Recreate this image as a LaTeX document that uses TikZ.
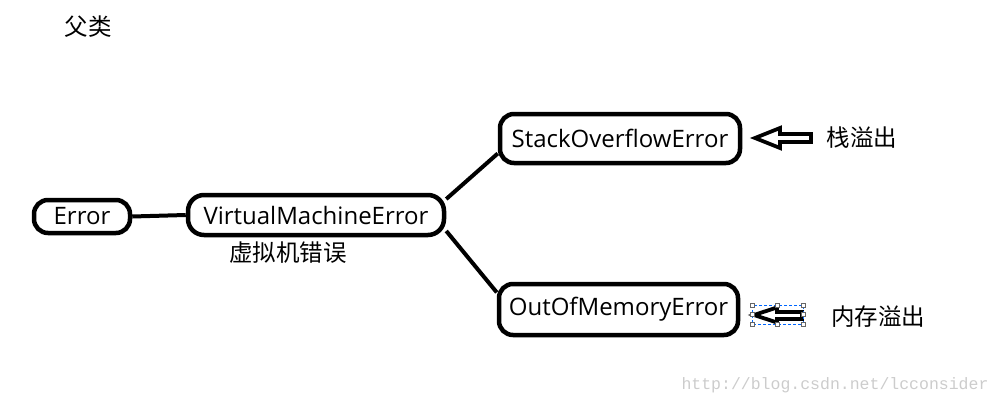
\documentclass[tikz,border=0pt]{standalone}
\usepackage{fontspec}
\setmainfont{Open Sans}
\newfontfamily\cjk{Noto Sans CJK SC}
\newfontfamily\wmfont{Liberation Mono}
\begin{document}
\begin{tikzpicture}[x=1pt,y=-1pt,
  errbox/.style={draw,line width=4.5pt,rounded corners=14pt,inner sep=0pt,font=\fontsize{24}{27}\selectfont},
  link/.style={line width=4pt},
  cjklabel/.style={inner sep=0pt,font=\cjk\fontsize{23.5}{26}\selectfont},
  hollowarrow/.style={line width=3.8pt,fill=white,line join=miter},
  selbox/.style={draw=blue!60!cyan,dashed,line width=0.8pt,dash pattern=on 3pt off 2pt},
  handle/.style={draw=gray!80!black,fill=white,line width=0.8pt,minimum size=4pt,inner sep=0pt}]
\useasboundingbox (0,0) rectangle (1002,404);

\node[cjklabel] (parent) at (88,27) {父类};

\node[errbox,minimum width=96pt,minimum height=33pt] (err) at (82,216.5) {Error};
\node[errbox,minimum width=256pt,minimum height=40pt,rounded corners=16pt] (vme) at (316,215) {VirtualMachineError};
\node[errbox,minimum width=240pt,minimum height=49pt] (soe) at (620,138.5) {StackOverflowError};
\node[errbox,minimum width=239pt,minimum height=51pt] (oom) at (618.5,309.5) {OutOfMemoryError};

\node[cjklabel] (vmecn) at (288,253) {虚拟机错误};
\node[cjklabel] (soecn) at (862,138) {栈溢出};
\node[cjklabel] (oomcn) at (878,317) {内存溢出};

\draw[link] (err.east) -- (vme.west);
\draw[link] (vme.7) -- (soe.187);
\draw[link] (vme.-7) -- (oom.172);

% hollow arrows
\draw[hollowarrow] (755,138) -- (780,128) -- (780,134) -- (811,134) -- (811,142) -- (780,142) -- (780,148) -- cycle;
\draw[hollowarrow] (754,315) -- (777,307.5) -- (777,312) -- (802,312) -- (802,319) -- (777,319) -- (777,322.5) -- cycle;

% selection frame
\coordinate (s1) at (752,305);
\coordinate (s2) at (803,324);
\draw[selbox] (s1) rectangle (s2);
\foreach \p in {(752,305),(777.5,305),(803,305),(752,314.5),(803,314.5),(752,324),(777.5,324),(803,324)}
  \node[handle] at \p {};

\node[inner sep=0pt,text=gray!40,font=\wmfont\fontsize{16.5}{18}\selectfont] (wm) at (835,385) {http://blog.csdn.net/lcconsider};
\end{tikzpicture}
\end{document}
